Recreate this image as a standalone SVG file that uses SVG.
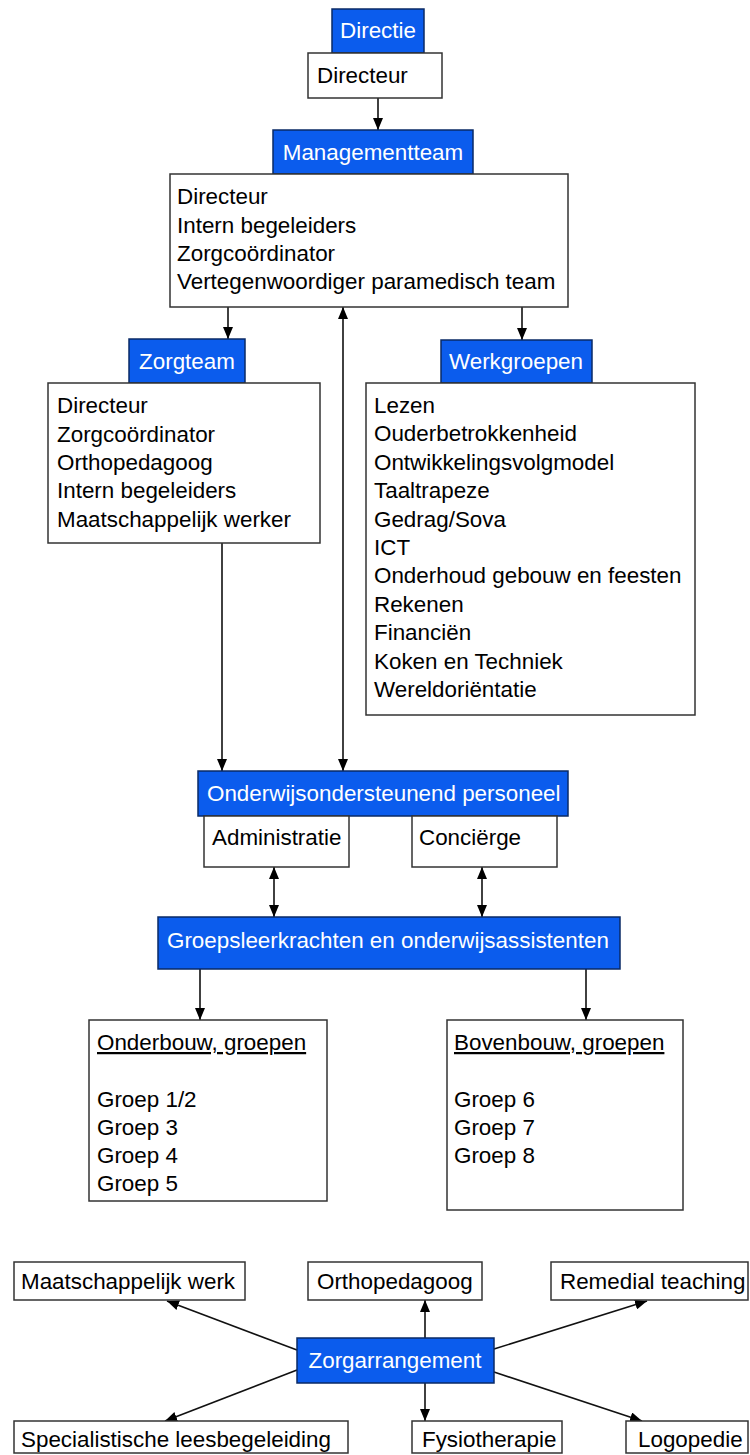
<svg xmlns="http://www.w3.org/2000/svg" width="750" height="1455" viewBox="0 0 750 1455">
<defs>
<style>
.t{font-family:"Liberation Sans",Arial,sans-serif;font-size:22.4px;fill:#000}
.w{font-family:"Liberation Sans",Arial,sans-serif;font-size:22.4px;fill:#fff}
.blue{fill:#0b5ced;stroke:#0a2a66;stroke-width:1.5}
.box{fill:#fff;stroke:#333;stroke-width:1.5}
.c{stroke:#111;stroke-width:1.6;fill:none}
</style>
<marker id="ah" viewBox="0 0 12 10" refX="12" refY="5" markerWidth="12" markerHeight="10" markerUnits="userSpaceOnUse" orient="auto-start-reverse">
<path d="M0,0 L12,5 L0,10 z" fill="#000"/>
</marker>
</defs>
<rect width="750" height="1455" fill="#fff"/>

<g id="connectors">
<line class="c" x1="378" y1="98" x2="378" y2="130" marker-end="url(#ah)"/>
<line class="c" x1="228" y1="307" x2="228" y2="339" marker-end="url(#ah)"/>
<line class="c" x1="522" y1="307" x2="522" y2="340" marker-end="url(#ah)"/>
<line class="c" x1="343" y1="307" x2="343" y2="771" marker-start="url(#ah)" marker-end="url(#ah)"/>
<line class="c" x1="222" y1="543" x2="222" y2="771" marker-end="url(#ah)"/>
<line class="c" x1="274" y1="867" x2="274" y2="917" marker-start="url(#ah)" marker-end="url(#ah)"/>
<line class="c" x1="482" y1="867" x2="482" y2="917" marker-start="url(#ah)" marker-end="url(#ah)"/>
<line class="c" x1="200" y1="969" x2="200" y2="1020" marker-end="url(#ah)"/>
<line class="c" x1="586" y1="969" x2="586" y2="1020" marker-end="url(#ah)"/>
<line class="c" x1="297" y1="1350" x2="167" y2="1301" marker-end="url(#ah)"/>
<line class="c" x1="425" y1="1338" x2="425" y2="1300" marker-end="url(#ah)"/>
<line class="c" x1="494" y1="1349" x2="647" y2="1301" marker-end="url(#ah)"/>
<line class="c" x1="297" y1="1370" x2="165" y2="1421" marker-end="url(#ah)"/>
<line class="c" x1="425" y1="1383" x2="425" y2="1421" marker-end="url(#ah)"/>
<line class="c" x1="494" y1="1372" x2="642" y2="1421" marker-end="url(#ah)"/>
</g>

<g id="directie">
<rect class="blue" x="332" y="9" width="92" height="44"/>
<text class="w" x="378" y="38" text-anchor="middle">Directie</text>
</g>
<g id="directeur">
<rect class="box" x="308" y="53" width="134" height="45"/>
<text class="t" x="317" y="83">Directeur</text>
</g>
<g id="managementteam">
<rect class="blue" x="273" y="130" width="200" height="44"/>
<text class="w" x="373" y="160" text-anchor="middle">Managementteam</text>
</g>
<g id="managementteam-leden">
<rect class="box" x="170" y="174" width="398" height="133"/>
<text class="t" x="177" y="204">Directeur</text>
<text class="t" x="177" y="233">Intern begeleiders</text>
<text class="t" x="177" y="261">Zorgcoördinator</text>
<text class="t" x="177" y="289">Vertegenwoordiger paramedisch team</text>
</g>
<g id="zorgteam">
<rect class="blue" x="129" y="339" width="116" height="44"/>
<text class="w" x="187" y="369" text-anchor="middle">Zorgteam</text>
</g>
<g id="zorgteam-leden">
<rect class="box" x="48" y="383" width="272" height="160"/>
<text class="t" x="57" y="413">Directeur</text>
<text class="t" x="57" y="442">Zorgcoördinator</text>
<text class="t" x="57" y="470">Orthopedagoog</text>
<text class="t" x="57" y="498">Intern begeleiders</text>
<text class="t" x="57" y="527">Maatschappelijk werker</text>
</g>
<g id="werkgroepen">
<rect class="blue" x="441" y="340" width="151" height="43"/>
<text class="w" x="516" y="369" text-anchor="middle">Werkgroepen</text>
</g>
<g id="werkgroepen-lijst">
<rect class="box" x="366" y="383" width="329" height="332"/>
<text class="t" x="374" y="413">Lezen</text>
<text class="t" x="374" y="441">Ouderbetrokkenheid</text>
<text class="t" x="374" y="470">Ontwikkelingsvolgmodel</text>
<text class="t" x="374" y="498">Taaltrapeze</text>
<text class="t" x="374" y="527">Gedrag/Sova</text>
<text class="t" x="374" y="555">ICT</text>
<text class="t" x="374" y="583">Onderhoud gebouw en feesten</text>
<text class="t" x="374" y="612">Rekenen</text>
<text class="t" x="374" y="640">Financiën</text>
<text class="t" x="374" y="669">Koken en Techniek</text>
<text class="t" x="374" y="697">Wereldoriëntatie</text>
</g>
<g id="onderwijsondersteunend">
<rect class="blue" x="198" y="771" width="370" height="45"/>
<text class="w" x="207" y="801">Onderwijsondersteunend personeel</text>
</g>
<g id="administratie">
<rect class="box" x="204" y="816" width="145" height="51"/>
<text class="t" x="212" y="845">Administratie</text>
</g>
<g id="concierge">
<rect class="box" x="412" y="816" width="145" height="51"/>
<text class="t" x="419" y="845">Conciërge</text>
</g>
<g id="groepsleerkrachten">
<rect class="blue" x="158" y="917" width="462" height="52"/>
<text class="w" x="167" y="948">Groepsleerkrachten en onderwijsassistenten</text>
</g>
<g id="onderbouw">
<rect class="box" x="89" y="1020" width="238" height="181"/>
<text class="t" x="97" y="1050" text-decoration="underline">Onderbouw, groepen</text>
<text class="t" x="97" y="1107">Groep 1/2</text>
<text class="t" x="97" y="1135">Groep 3</text>
<text class="t" x="97" y="1163">Groep 4</text>
<text class="t" x="97" y="1191">Groep 5</text>
</g>
<g id="bovenbouw">
<rect class="box" x="447" y="1020" width="236" height="190"/>
<text class="t" x="454" y="1050" text-decoration="underline">Bovenbouw, groepen</text>
<text class="t" x="454" y="1107">Groep 6</text>
<text class="t" x="454" y="1135">Groep 7</text>
<text class="t" x="454" y="1163">Groep 8</text>
</g>
<g id="maatschappelijk-werk">
<rect class="box" x="14" y="1262" width="231" height="38"/>
<text class="t" x="21" y="1289">Maatschappelijk werk</text>
</g>
<g id="orthopedagoog">
<rect class="box" x="308" y="1262" width="174" height="38"/>
<text class="t" x="317" y="1289">Orthopedagoog</text>
</g>
<g id="remedial-teaching">
<rect class="box" x="551" y="1262" width="197" height="38"/>
<text class="t" x="560" y="1289">Remedial teaching</text>
</g>
<g id="zorgarrangement">
<rect class="blue" x="297" y="1338" width="197" height="45"/>
<text class="w" x="395" y="1368" text-anchor="middle">Zorgarrangement</text>
</g>
<g id="specialistische-leesbegeleiding">
<rect class="box" x="14" y="1421" width="334" height="32"/>
<text class="t" x="21" y="1447">Specialistische leesbegeleiding</text>
</g>
<g id="fysiotherapie">
<rect class="box" x="412" y="1421" width="150" height="32"/>
<text class="t" x="422" y="1447">Fysiotherapie</text>
</g>
<g id="logopedie">
<rect class="box" x="626" y="1421" width="122" height="32"/>
<text class="t" x="638" y="1447">Logopedie</text>
</g>
</svg>
